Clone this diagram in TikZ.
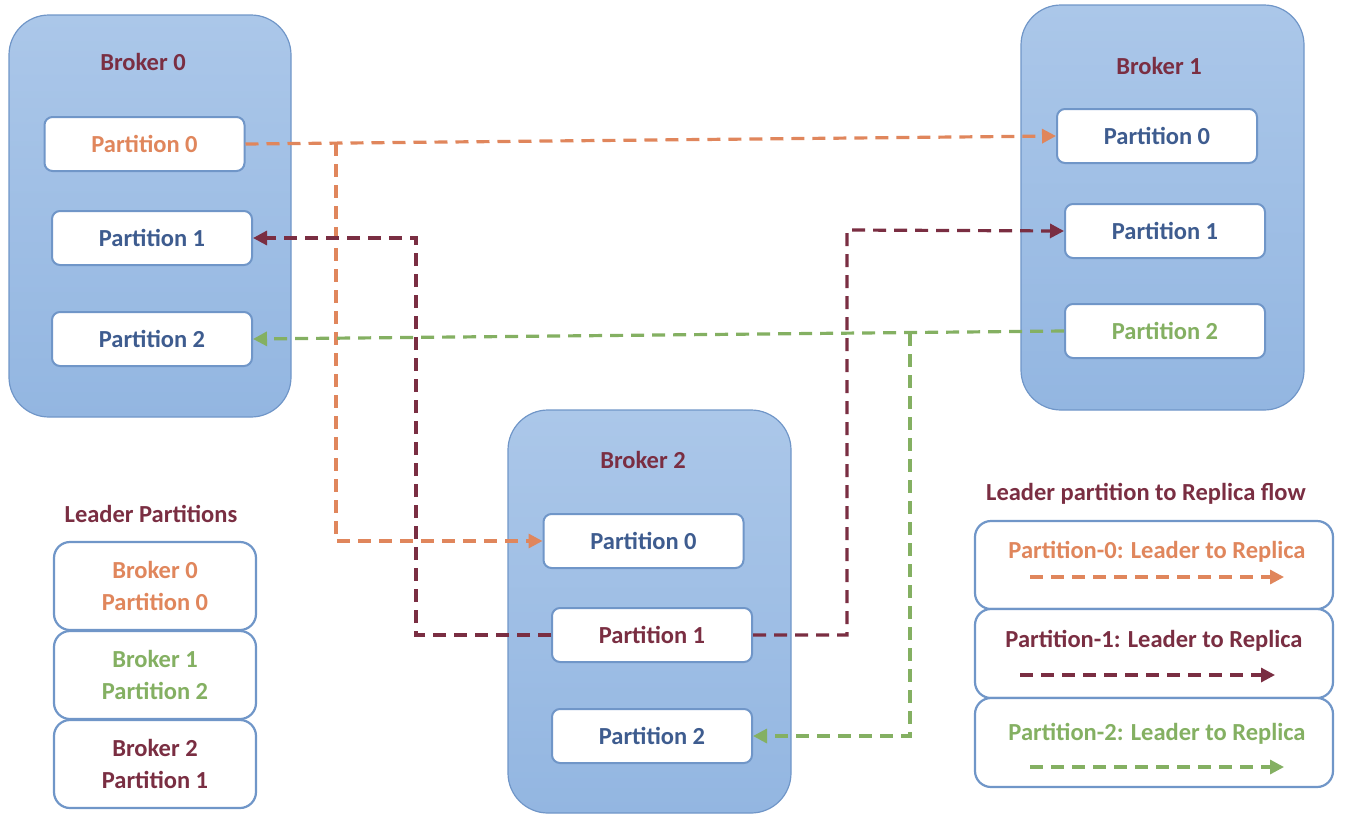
\documentclass[tikz,border=0pt]{standalone}
\usepackage{fontspec}
\setmainfont{Carlito}
\usetikzlibrary{arrows.meta}
\definecolor{orangeC}{HTML}{E0865C}
\definecolor{maroonC}{HTML}{7A2E42}
\definecolor{blueT}{HTML}{3E5C8F}
\definecolor{greenC}{HTML}{84B062}
\definecolor{borderC}{HTML}{7096C8}
\definecolor{brokTop}{HTML}{ABC7E9}
\definecolor{brokBot}{HTML}{93B6E1}
\tikzset{
  broker/.style={draw=borderC, line width=1.2pt, rounded corners=40pt, top color=brokTop, bottom color=brokBot},
  part/.style={draw=borderC, line width=2pt, fill=white, rounded corners=8pt, minimum width=200pt, minimum height=54pt, inner sep=0pt, font=\fontsize{24.5}{28}\selectfont\bfseries},
  ttl/.style={font=\fontsize{24.5}{28}\selectfont\bfseries, text=maroonC, inner sep=0pt},
  legbox/.style={draw=borderC, line width=2.2pt, fill=white, rounded corners=16pt, inner sep=0pt},
  ltxt/.style={font=\fontsize{24.5}{28}\selectfont\bfseries, inner sep=0pt},
  flow/.style={line width=3.2pt, dash pattern=on 13pt off 8pt, -{Triangle[length=14pt,width=14pt]}},
}
\begin{document}
\begin{tikzpicture}[x=1pt,y=-1pt]
\useasboundingbox (0,0) rectangle (1354,825);
% brokers
\path[broker] (9,15) rectangle (291,417);
\path[broker] (1021,5) rectangle (1304,410);
\path[broker] (508,410) rectangle (791,813);
\node[ttl] (t0) at (143,62) {Broker 0};
\node[ttl] (t1) at (1159,66) {Broker 1};
\node[ttl] (t2) at (643,460) {Broker 2};
% partitions
\node[part, text=orangeC] (P00) at (144.5,144) {Partition 0};
\node[part, text=blueT] (P01) at (152,238) {Partition 1};
\node[part, text=blueT] (P02) at (152,339) {Partition 2};
\node[part, text=blueT] (P10) at (1157,136) {Partition 0};
\node[part, text=blueT] (P11) at (1165,231) {Partition 1};
\node[part, text=greenC] (P12) at (1165,331) {Partition 2};
\node[part, text=blueT] (P20) at (643.5,541) {Partition 0};
\node[part, text=maroonC] (P21) at (652,635) {Partition 1};
\node[part, text=blueT] (P22) at (652,736) {Partition 2};
% connectors
\coordinate (ob) at (336,143.3);
\draw[flow, orangeC] (P00.east) -- (P10.west);
\draw[flow, orangeC] (ob) |- (P20.west);
\coordinate (r1) at (416,238);
\coordinate (r2) at (847,230);
\draw[flow, maroonC] (P21.west) -| (r1) -- (P01.east);
\draw[flow, maroonC] (P21.east) -| (r2) -- (P11.west);
\coordinate (gb) at (910,333.3);
\draw[flow, greenC] (P12.west) -- (P02.east);
\draw[flow, greenC] (gb) |- (P22.east);
% leader partitions legend
\node[ttl] (lpt) at (151,514) {Leader Partitions};
\node[legbox, minimum width=202pt, minimum height=88pt] (L0) at (155,586) {};
\node[legbox, minimum width=202pt, minimum height=88pt] (L1) at (155,675) {};
\node[legbox, minimum width=202pt, minimum height=88pt] (L2) at (155,764) {};
\node[ltxt, text=orangeC, align=center] at (L0) {Broker 0\\[4pt]Partition 0};
\node[ltxt, text=greenC, align=center] at (L1) {Broker 1\\[4pt]Partition 2};
\node[ltxt, text=maroonC, align=center] at (L2) {Broker 2\\[4pt]Partition 1};
% flow legend
\node[ttl] (fpt) at (1146,494) {Leader partition to Replica flow};
\node[legbox, minimum width=358pt, minimum height=88pt] (F0) at (1154,565) {};
\node[legbox, minimum width=358pt, minimum height=89pt] (F1) at (1154,653.5) {};
\node[legbox, minimum width=358pt, minimum height=89pt] (F2) at (1154,742.5) {};
\node[ltxt, text=orangeC] (F0t) at (1157,552) {Partition-0: Leader to Replica};
\node[ltxt, text=maroonC] (F1t) at (1154,641) {Partition-1: Leader to Replica};
\node[ltxt, text=greenC] (F2t) at (1157,734) {Partition-2: Leader to Replica};
\coordinate (F0a) at (1030,577); \coordinate (F0b) at (1284,577);
\coordinate (F1a) at (1020,675); \coordinate (F1b) at (1275,675);
\coordinate (F2a) at (1030,767); \coordinate (F2b) at (1284,767);
\draw[flow, orangeC] (F0a) -- (F0b);
\draw[flow, maroonC] (F1a) -- (F1b);
\draw[flow, greenC] (F2a) -- (F2b);
\end{tikzpicture}
\end{document}
